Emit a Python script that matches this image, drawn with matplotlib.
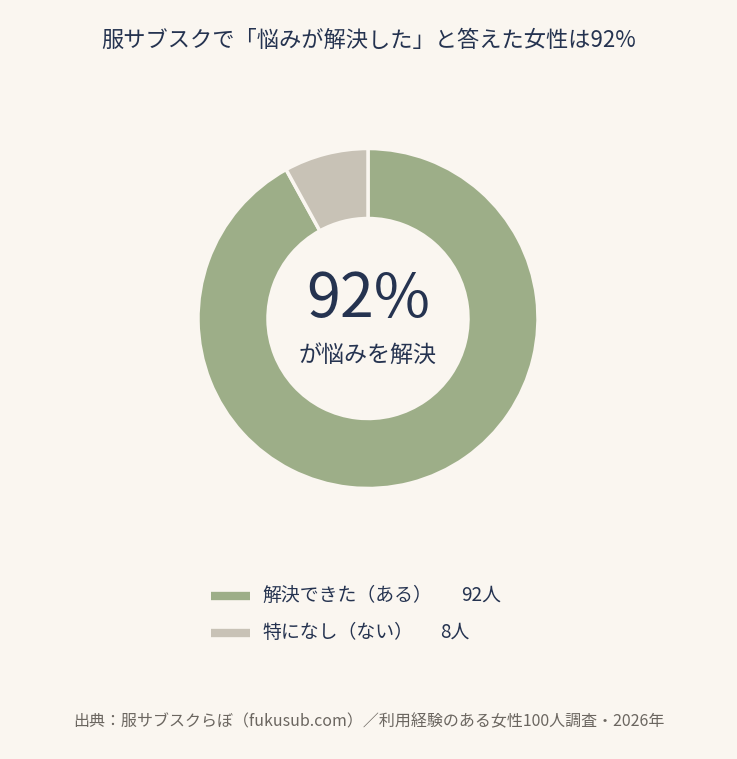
import matplotlib.pyplot as plt
from matplotlib.lines import Line2D

plt.rcParams['font.family'] = ['Noto Sans CJK JP', 'DejaVu Sans']

# datos
labels = ['解決できた（ある）', '特になし（ない）']
values = [92, 8]
counts = ['92人', '8人']
colors = ['#9dae88', '#c8c2b6']

bg = '#faf6f0'
navy = '#253350'

W, H = 737, 759
fig = plt.figure(figsize=(W / 100, H / 100), dpi=100, facecolor=bg)

# donut
cx, cy, r = 368, 318.5, 170
ax = fig.add_axes([(cx - r) / W, (H - cy - r) / H, 2 * r / W, 2 * r / H])
ax.set_facecolor(bg)
ax.pie(values, colors=colors, startangle=90, counterclock=False, radius=1,
       wedgeprops=dict(width=70 / 170, edgecolor=bg, linewidth=2.5))
ax.set_xlim(-1, 1)
ax.set_ylim(-1, 1)
ax.set_aspect('equal')
ax.axis('off')

def fy(y):
    return 1 - y / H

def fx(x):
    return x / W

fig.text(0.5, fy(40), '服サブスクで「悩みが解決した」と答えた女性は92%',
         ha='center', va='center', fontsize=16, color=navy)

fig.text(fx(368), fy(300), f'{values[0]}%', ha='center', va='center',
         fontsize=44, color=navy)
fig.text(fx(368), fy(355), 'が悩みを解決', ha='center', va='center',
         fontsize=16.6, color=navy)

# leyenda
legend_y = [595, 632]
count_x = [481, 455]
for i in range(len(labels)):
    fig.add_artist(Line2D([fx(211), fx(250)], [fy(legend_y[i] + 1)] * 2,
                          color=colors[i], linewidth=6, solid_capstyle='butt'))
    fig.text(fx(262), fy(legend_y[i]), labels[i], ha='left', va='center',
             fontsize=13.6, color=navy)
    fig.text(fx(count_x[i]), fy(legend_y[i]), counts[i], ha='center', va='center',
             fontsize=13.6, color=navy)

fig.text(0.5, fy(722), '出典：服サブスクらぼ（fukusub.com）／利用経験のある女性100人調査・2026年',
         ha='center', va='center', fontsize=11.5, color='#6b6660')

fig.savefig('out.png', dpi=100, facecolor=bg)
